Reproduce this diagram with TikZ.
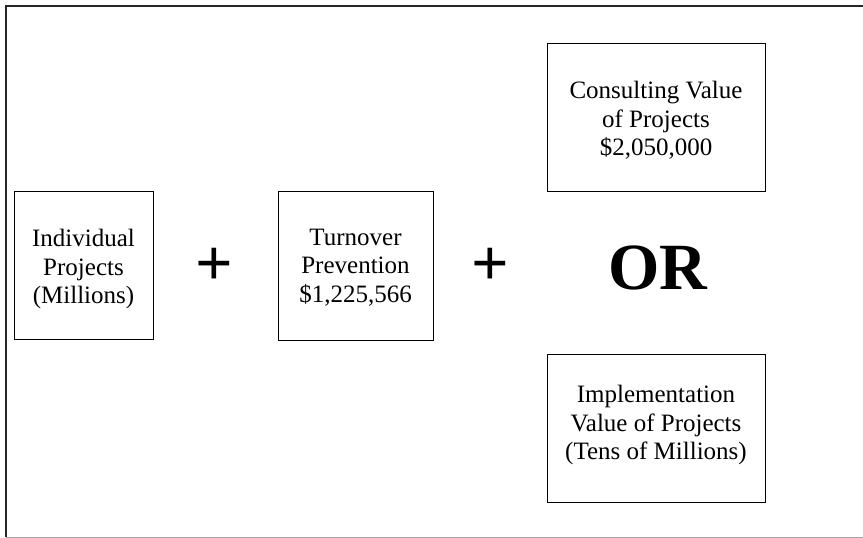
\documentclass[tikz,border=0pt]{standalone}
\usepackage{fontspec}
\setmainfont{Liberation Serif}
\begin{document}
\begin{tikzpicture}[x=1pt,y=-1pt,
  valuebox/.style={draw=black, line width=1pt, inner sep=0pt},
  boxtext/.style={anchor=north, inner sep=0pt, align=center,
    font=\fontsize{25}{28.5}\selectfont},
  opsign/.style={inner sep=0pt, font=\fontsize{66}{66}\selectfont\bfseries},
  orword/.style={inner sep=0pt, font=\fontsize{66}{66}\selectfont\bfseries}]
  \useasboundingbox (0,0) rectangle (863,538);
  % open outer frame
  \coordinate (fbl) at (5.5,537);
  \coordinate (ftl) at (5.5,5.5);
  \coordinate (ftr) at (863,5.5);
  \coordinate (fbr) at (863,537);
  \draw[line width=2pt, black!85] (fbl) -- (ftl) -- (ftr);
  \draw[line width=0.8pt, black!35] (fbl) -- (fbr);

  % value boxes
  \node[valuebox, minimum width=139pt, minimum height=148pt] (ind) at (83.5,265) {};
  \node[valuebox, minimum width=155pt, minimum height=149pt] (turn) at (355.5,265.5) {};
  \node[valuebox, minimum width=218pt, minimum height=148pt] (cons) at (656,117) {};
  \node[valuebox, minimum width=218pt, minimum height=148pt] (impl) at (656,428) {};

  % box texts
  \node[boxtext] (indt) at (83.5,229) {Individual\\Projects\\(Millions)};
  \node[boxtext] (turnt) at (355.5,228.5) {Turnover\\Prevention\\\$1,225,566};
  \node[boxtext] (const) at (656,81) {Consulting Value\\of Projects\\\$2,050,000};
  \node[boxtext] (implt) at (656,385) {Implementation\\Value of Projects\\(Tens of Millions)};

  % operators
  \node[opsign] (plusa) at (214,267) {+};
  \node[opsign] (plusb) at (490,267) {+};
  \node[orword] (or) at (657.5,267.5) {OR};
\end{tikzpicture}
\end{document}
